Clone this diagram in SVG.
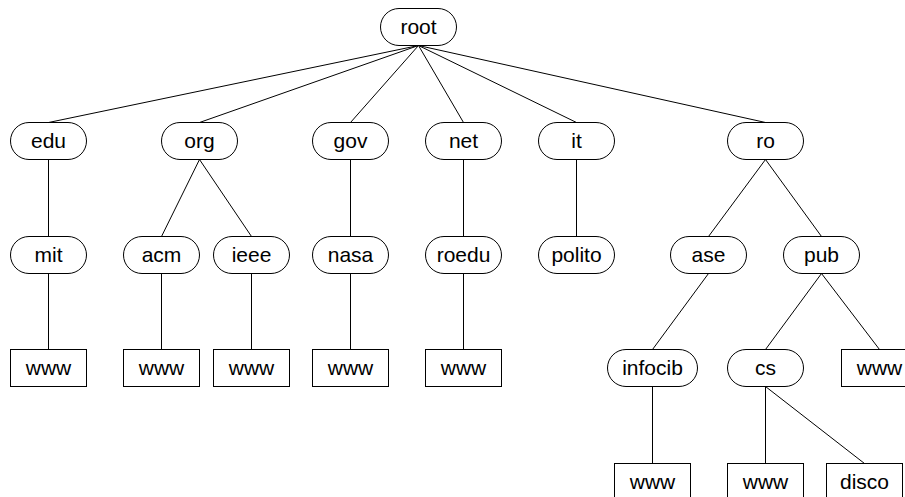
<svg xmlns="http://www.w3.org/2000/svg" width="905" height="497" viewBox="0 0 905 497">
<style>
.n{fill:#fff;stroke:#000;stroke-width:1}
.t{font-family:"Liberation Sans",Arial,sans-serif;font-size:21px;fill:#000;text-anchor:middle}
.e line{stroke:#000;stroke-width:1}
</style>
<rect width="905" height="497" fill="#fff"/>
<g class="e" id="connectors">
<line x1="418.5" y1="45.5" x2="48.5" y2="122.5"/>
<line x1="418.5" y1="45.5" x2="199.5" y2="122.5"/>
<line x1="418.5" y1="45.5" x2="350.5" y2="122.5"/>
<line x1="418.5" y1="45.5" x2="463.5" y2="122.5"/>
<line x1="418.5" y1="45.5" x2="576.5" y2="122.5"/>
<line x1="418.5" y1="45.5" x2="765.5" y2="122.5"/>
<line x1="48.5" y1="159.5" x2="48.5" y2="236.5"/>
<line x1="199.5" y1="159.5" x2="161.5" y2="236.5"/>
<line x1="199.5" y1="159.5" x2="251.5" y2="236.5"/>
<line x1="350.5" y1="159.5" x2="350.5" y2="236.5"/>
<line x1="463.5" y1="159.5" x2="463.5" y2="236.5"/>
<line x1="576.5" y1="159.5" x2="576.5" y2="236.5"/>
<line x1="765.5" y1="159.5" x2="708.5" y2="236.5"/>
<line x1="765.5" y1="159.5" x2="821.5" y2="236.5"/>
<line x1="48.5" y1="273.5" x2="48.5" y2="349.5"/>
<line x1="161.5" y1="273.5" x2="161.5" y2="349.5"/>
<line x1="251.5" y1="273.5" x2="251.5" y2="349.5"/>
<line x1="350.5" y1="273.5" x2="350.5" y2="349.5"/>
<line x1="463.5" y1="273.5" x2="463.5" y2="349.5"/>
<line x1="708.5" y1="273.5" x2="652.5" y2="349.5"/>
<line x1="821.5" y1="273.5" x2="765.5" y2="349.5"/>
<line x1="821.5" y1="273.5" x2="879.5" y2="349.5"/>
<line x1="652.5" y1="386.5" x2="652.5" y2="463.5"/>
<line x1="765.5" y1="386.5" x2="765.5" y2="463.5"/>
<line x1="765.5" y1="386.5" x2="864.5" y2="463.5"/>
</g>
<g id="root"><rect class="n" x="380.5" y="8.5" width="76" height="37" rx="18.5"/><text class="t" x="418.5" y="34">root</text></g>
<g id="edu"><rect class="n" x="10.5" y="122.5" width="76" height="37" rx="18.5"/><text class="t" x="48.5" y="148">edu</text></g>
<g id="org"><rect class="n" x="161.5" y="122.5" width="76" height="37" rx="18.5"/><text class="t" x="199.5" y="148">org</text></g>
<g id="gov"><rect class="n" x="312.5" y="122.5" width="76" height="37" rx="18.5"/><text class="t" x="350.5" y="148">gov</text></g>
<g id="net"><rect class="n" x="425.5" y="122.5" width="76" height="37" rx="18.5"/><text class="t" x="463.5" y="148">net</text></g>
<g id="it"><rect class="n" x="538.5" y="122.5" width="76" height="37" rx="18.5"/><text class="t" x="576.5" y="148">it</text></g>
<g id="ro"><rect class="n" x="727.5" y="122.5" width="76" height="37" rx="18.5"/><text class="t" x="765.5" y="148">ro</text></g>
<g id="mit"><rect class="n" x="10.5" y="236.5" width="76" height="37" rx="18.5"/><text class="t" x="48.5" y="262">mit</text></g>
<g id="acm"><rect class="n" x="123.5" y="236.5" width="76" height="37" rx="18.5"/><text class="t" x="161.5" y="262">acm</text></g>
<g id="ieee"><rect class="n" x="213.5" y="236.5" width="76" height="37" rx="18.5"/><text class="t" x="251.5" y="262">ieee</text></g>
<g id="nasa"><rect class="n" x="312.5" y="236.5" width="76" height="37" rx="18.5"/><text class="t" x="350.5" y="262">nasa</text></g>
<g id="roedu"><rect class="n" x="425.5" y="236.5" width="76" height="37" rx="18.5"/><text class="t" x="463.5" y="262">roedu</text></g>
<g id="polito"><rect class="n" x="538.5" y="236.5" width="76" height="37" rx="18.5"/><text class="t" x="576.5" y="262">polito</text></g>
<g id="ase"><rect class="n" x="670.5" y="236.5" width="76" height="37" rx="18.5"/><text class="t" x="708.5" y="262">ase</text></g>
<g id="pub"><rect class="n" x="783.5" y="236.5" width="76" height="37" rx="18.5"/><text class="t" x="821.5" y="262">pub</text></g>
<g id="www-mit"><rect class="n" x="10.5" y="349.5" width="76" height="37"/><text class="t" x="48.5" y="375">www</text></g>
<g id="www-acm"><rect class="n" x="123.5" y="349.5" width="76" height="37"/><text class="t" x="161.5" y="375">www</text></g>
<g id="www-ieee"><rect class="n" x="213.5" y="349.5" width="76" height="37"/><text class="t" x="251.5" y="375">www</text></g>
<g id="www-nasa"><rect class="n" x="312.5" y="349.5" width="76" height="37"/><text class="t" x="350.5" y="375">www</text></g>
<g id="www-roedu"><rect class="n" x="425.5" y="349.5" width="76" height="37"/><text class="t" x="463.5" y="375">www</text></g>
<g id="infocib"><rect class="n" x="607.5" y="349.5" width="90" height="37" rx="18.5"/><text class="t" x="652.5" y="375">infocib</text></g>
<g id="cs"><rect class="n" x="727.5" y="349.5" width="76" height="37" rx="18.5"/><text class="t" x="765.5" y="375">cs</text></g>
<g id="www-pub"><rect class="n" x="841.5" y="349.5" width="76" height="37"/><text class="t" x="879.5" y="375">www</text></g>
<g id="www-infocib"><rect class="n" x="614.5" y="463.5" width="76" height="37"/><text class="t" x="652.5" y="489">www</text></g>
<g id="www-cs"><rect class="n" x="727.5" y="463.5" width="76" height="37"/><text class="t" x="765.5" y="489">www</text></g>
<g id="disco"><rect class="n" x="826.5" y="463.5" width="76" height="37"/><text class="t" x="864.5" y="489">disco</text></g>
</svg>
